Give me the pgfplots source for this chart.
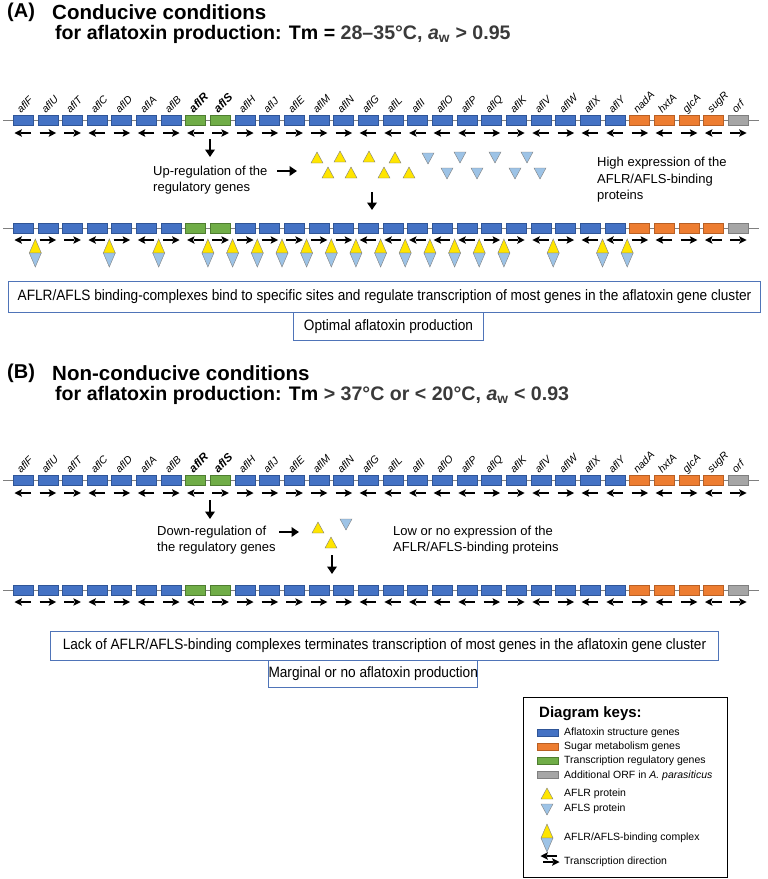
\documentclass[border=0pt]{standalone}
\usepackage{pgfplots}
\pgfplotsset{compat=1.18}
\usepackage{pgfplotstable}
\usepackage{fontspec}
\setmainfont{Liberation Sans}
\usetikzlibrary{arrows.meta}

\definecolor{gblue}{HTML}{4472C4}
\definecolor{gblueD}{HTML}{2F5597}
\definecolor{gorange}{HTML}{ED7D31}
\definecolor{gorangeD}{HTML}{B85F24}
\definecolor{ggreen}{HTML}{70AD47}
\definecolor{ggreenD}{HTML}{4E7D30}
\definecolor{ggray}{HTML}{A6A6A6}
\definecolor{ggrayD}{HTML}{7F7F7F}
\definecolor{tyellow}{HTML}{FFE500}
\definecolor{tblue}{HTML}{9DC3E6}
\definecolor{tedge}{HTML}{7F7F7F}
\definecolor{boxblue}{HTML}{4F74B8}
\definecolor{dgray}{HTML}{3A3A3A}

\pgfdeclareplotmark{genebox}{\pgfpathrectangle{\pgfpoint{-10pt}{-5pt}}{\pgfpoint{20pt}{10pt}}\pgfusepathqfillstroke}
\pgfdeclareplotmark{keybox}{\pgfpathrectangle{\pgfpoint{-10.5pt}{-3.5pt}}{\pgfpoint{21pt}{7pt}}\pgfusepathqfillstroke}
\pgfdeclareplotmark{tri}{\pgfpathmoveto{\pgfpoint{0pt}{6pt}}\pgfpathlineto{\pgfpoint{6pt}{-5pt}}\pgfpathlineto{\pgfpoint{-6pt}{-5pt}}\pgfpathclose\pgfusepathqfillstroke}
\pgfdeclareplotmark{itri}{\pgfpathmoveto{\pgfpoint{0pt}{-6pt}}\pgfpathlineto{\pgfpoint{6pt}{5pt}}\pgfpathlineto{\pgfpoint{-6pt}{5pt}}\pgfpathclose\pgfusepathqfillstroke}
\pgfdeclareplotmark{complex}{%
  \pgfsetstrokecolor{tedge}%
  \pgfsetfillcolor{tyellow}%
  \pgfpathmoveto{\pgfpoint{0pt}{14pt}}\pgfpathlineto{\pgfpoint{6pt}{0pt}}\pgfpathlineto{\pgfpoint{-6pt}{0pt}}\pgfpathclose\pgfusepathqfillstroke
  \pgfsetfillcolor{tblue}%
  \pgfpathmoveto{\pgfpoint{0pt}{-14pt}}\pgfpathlineto{\pgfpoint{6pt}{0pt}}\pgfpathlineto{\pgfpoint{-6pt}{0pt}}\pgfpathclose\pgfusepathqfillstroke}
\pgfdeclareplotmark{rarr}{%
  \pgfsetlinewidth{1.5pt}%
  \pgfpathmoveto{\pgfpoint{-8pt}{0pt}}\pgfpathlineto{\pgfpoint{2pt}{0pt}}\pgfusepathqstroke
  \pgfpathmoveto{\pgfpoint{8.5pt}{0pt}}\pgfpathlineto{\pgfpoint{1pt}{3.8pt}}\pgfpathlineto{\pgfpoint{2.5pt}{0pt}}\pgfpathlineto{\pgfpoint{1pt}{-3.8pt}}\pgfpathclose\pgfusepathqfill}
\pgfdeclareplotmark{larr}{%
  \pgfsetlinewidth{1.5pt}%
  \pgfpathmoveto{\pgfpoint{8pt}{0pt}}\pgfpathlineto{\pgfpoint{-2pt}{0pt}}\pgfusepathqstroke
  \pgfpathmoveto{\pgfpoint{-8.5pt}{0pt}}\pgfpathlineto{\pgfpoint{-1pt}{3.8pt}}\pgfpathlineto{\pgfpoint{-2.5pt}{0pt}}\pgfpathlineto{\pgfpoint{-1pt}{-3.8pt}}\pgfpathclose\pgfusepathqfill}

\pgfplotstableread{
x type dir
23.0 b L
47.7 b R
72.3 b R
97.0 b L
121.6 b R
146.3 b L
171.0 b R
195.6 g L
220.3 g R
245.0 b R
269.6 b R
294.3 b R
318.9 b R
343.6 b R
368.2 b L
392.9 b L
417.6 b L
442.2 b L
466.9 b L
491.5 b R
516.2 b R
540.9 b L
565.5 b R
590.2 b L
614.8 b L
639.5 o R
664.2 o L
688.8 o R
713.5 o L
738.1 y R
}\genes

\pgfplotstableread{
x y
35.3 253
109.3 253
158.7 253
207.9 253
232.6 253
257.3 253
282.0 253
306.6 253
331.3 253
355.9 253
380.6 253
405.2 253
429.9 253
454.6 253
479.2 253
503.9 253
553.2 253
602.5 253
627.2 253
}\complexes

\pgfplotstableread{
x y
317 158
340 157
369 157
395 158
328 173
351 173
384 173
409 173
}\aflrA

\pgfplotstableread{
x y
428 158
460 157
495 157
527 157
447 173
477 173
515 173
540 173
}\aflsA

\pgfplotstableread{
x y
318 528
331 543
}\aflrB

\pgfplotstableread{
x y
346 524
}\aflsB

\pgfplotsset{
  genestyle/.style={scatter, only marks, scatter src=explicit symbolic,
    scatter/classes={
      b={mark=genebox, fill=gblue, draw=gblueD},
      g={mark=genebox, fill=ggreen, draw=ggreenD},
      o={mark=genebox, fill=gorange, draw=gorangeD},
      y={mark=genebox, fill=ggray, draw=ggrayD}}},
  dirstyle/.style={scatter, only marks, scatter src=explicit symbolic,
    scatter/classes={
      L={mark=larr, black, fill=black},
      R={mark=rarr, black, fill=black}}},
  blockarrow/.style={black, line width=2.6pt, -{Triangle[width=9.5pt,length=7.5pt]}},
}
\tikzset{
  boxtext/.style={draw=boxblue, line width=1pt, anchor=north west, inner sep=0pt,
    font=\fontsize{15}{17}\selectfont},
  glab/.style={rotate=45, anchor=base west, inner sep=0pt, font=\fontsize{10.5}{12}\selectfont\itshape},
}
% gene names, written 45 degrees up from just above each box (#1 = y of the text base)
\newcommand{\genelabels}[1]{%
  \node[glab] at (axis cs:21.0,#1) {aflF};
  \node[glab] at (axis cs:45.7,#1) {aflU};
  \node[glab] at (axis cs:70.3,#1) {aflT};
  \node[glab] at (axis cs:95.0,#1) {aflC};
  \node[glab] at (axis cs:119.6,#1) {aflD};
  \node[glab] at (axis cs:144.3,#1) {aflA};
  \node[glab] at (axis cs:169.0,#1) {aflB};
  \node[glab] at (axis cs:193.6,#1) {\bfseries\fontsize{11.5}{12}\selectfont aflR};
  \node[glab] at (axis cs:218.3,#1) {\bfseries\fontsize{11.5}{12}\selectfont aflS};
  \node[glab] at (axis cs:243.0,#1) {aflH};
  \node[glab] at (axis cs:267.6,#1) {aflJ};
  \node[glab] at (axis cs:292.3,#1) {aflE};
  \node[glab] at (axis cs:316.9,#1) {aflM};
  \node[glab] at (axis cs:341.6,#1) {aflN};
  \node[glab] at (axis cs:366.2,#1) {aflG};
  \node[glab] at (axis cs:390.9,#1) {aflL};
  \node[glab] at (axis cs:415.6,#1) {aflI};
  \node[glab] at (axis cs:440.2,#1) {aflO};
  \node[glab] at (axis cs:464.9,#1) {aflP};
  \node[glab] at (axis cs:489.5,#1) {aflQ};
  \node[glab] at (axis cs:514.2,#1) {aflK};
  \node[glab] at (axis cs:538.9,#1) {aflV};
  \node[glab] at (axis cs:563.5,#1) {aflW};
  \node[glab] at (axis cs:588.2,#1) {aflX};
  \node[glab] at (axis cs:612.8,#1) {aflY};
  \node[glab] at (axis cs:637.5,#1) {nadA};
  \node[glab] at (axis cs:662.2,#1) {hxtA};
  \node[glab] at (axis cs:686.8,#1) {glcA};
  \node[glab] at (axis cs:711.5,#1) {sugR};
  \node[glab] at (axis cs:736.1,#1) {orf};
}

\begin{document}
\begin{tikzpicture}
\begin{axis}[width=768pt, height=879pt, scale only axis, xmin=0, xmax=768, ymin=0, ymax=879,
  y dir=reverse, hide axis, clip=false]

% ---------- Panel A ----------
\node[anchor=west, inner sep=0pt, font=\fontsize{20}{24}\selectfont\bfseries] at (axis cs:7,12) {(A)};
\node[anchor=west, inner sep=0pt, font=\fontsize{20.5}{24}\selectfont\bfseries] at (axis cs:52,12) {Conducive conditions};
\node[anchor=west, inner sep=0pt, font=\fontsize{19.6}{24}\selectfont\bfseries] at (axis cs:55,34) {for aflatoxin production: Tm = \textcolor{dgray}{28–35°C, \textit{a}\textsubscript{w} > 0.95}};

% row 1
\addplot[ggrayD, line width=0.8pt] coordinates {(3,120) (759,120)};
\addplot[genestyle] table[x=x, y expr=120, meta=type] {\genes};
\addplot[dirstyle] table[x=x, y expr=133, meta=dir] {\genes};
\genelabels{113.5}

\addplot[blockarrow] coordinates {(210,139) (210,157)};
\node[anchor=west, inner sep=0pt, align=left, font=\fontsize{13}{16}\selectfont] at (axis cs:153,180) {Up-regulation of the\\regulatory genes};
\addplot[blockarrow] coordinates {(277,171) (297,171)};

\addplot[only marks, mark=tri, fill=tyellow, draw=tedge] table[x=x,y=y] {\aflrA};
\addplot[only marks, mark=itri, fill=tblue, draw=tedge] table[x=x,y=y] {\aflsA};
\addplot[blockarrow] coordinates {(372,192) (372,210)};
\node[anchor=west, inner sep=0pt, align=left, font=\fontsize{13}{16.5}\selectfont] at (axis cs:597,180) {High expression of the\\AFLR/AFLS-binding\\proteins};

% row 2
\addplot[ggrayD, line width=0.8pt] coordinates {(3,228) (759,228)};
\addplot[genestyle] table[x=x, y expr=228, meta=type] {\genes};
\addplot[dirstyle] table[x=x, y expr=240, meta=dir] {\genes};
\addplot[only marks, mark=complex] table[x=x, y=y] {\complexes};

\node[boxtext, minimum width=752pt, minimum height=31pt] at (axis cs:8,281)
  {\scalebox{0.91}[1]{AFLR/AFLS binding-complexes bind to specific sites and regulate transcription of most genes in the aflatoxin gene cluster}};
\node[boxtext, minimum width=190pt, minimum height=28pt] at (axis cs:293,312)
  {\scalebox{0.91}[1]{Optimal aflatoxin production}};

% ---------- Panel B ----------
\node[anchor=west, inner sep=0pt, font=\fontsize{20}{24}\selectfont\bfseries] at (axis cs:7,373) {(B)};
\node[anchor=west, inner sep=0pt, font=\fontsize{20.5}{24}\selectfont\bfseries] at (axis cs:52,373) {Non-conducive conditions};
\node[anchor=west, inner sep=0pt, font=\fontsize{19.6}{24}\selectfont\bfseries] at (axis cs:55,395) {for aflatoxin production: Tm \textcolor{dgray}{> 37°C or < 20°C, \textit{a}\textsubscript{w} < 0.93}};

% row 3
\addplot[ggrayD, line width=0.8pt] coordinates {(3,480) (759,480)};
\addplot[genestyle] table[x=x, y expr=480, meta=type] {\genes};
\addplot[dirstyle] table[x=x, y expr=493, meta=dir] {\genes};
\genelabels{473.5}

\addplot[blockarrow] coordinates {(210,500) (210,519)};
\node[anchor=west, inner sep=0pt, align=left, font=\fontsize{13}{16}\selectfont] at (axis cs:157,540) {Down-regulation of\\the regulatory genes};
\addplot[blockarrow] coordinates {(279,532) (299,532)};
\addplot[only marks, mark=tri, fill=tyellow, draw=tedge] table[x=x,y=y] {\aflrB};
\addplot[only marks, mark=itri, fill=tblue, draw=tedge] table[x=x,y=y] {\aflsB};
\addplot[blockarrow] coordinates {(332,555) (332,574)};
\node[anchor=west, inner sep=0pt, align=left, font=\fontsize{13}{16}\selectfont] at (axis cs:393,540) {Low or no expression of the\\AFLR/AFLS-binding proteins};

% row 4
\addplot[ggrayD, line width=0.8pt] coordinates {(3,590) (759,590)};
\addplot[genestyle] table[x=x, y expr=590, meta=type] {\genes};
\addplot[dirstyle] table[x=x, y expr=602, meta=dir] {\genes};

\node[boxtext, minimum width=668pt, minimum height=29pt] at (axis cs:50,631)
  {\scalebox{0.91}[1]{Lack of AFLR/AFLS-binding complexes terminates transcription of most genes in the aflatoxin gene cluster}};
\node[boxtext, minimum width=209pt, minimum height=27pt] at (axis cs:268,660)
  {\scalebox{0.91}[1]{Marginal or no aflatoxin production}};

% ---------- Legend ----------
\addplot[black, line width=1pt] coordinates {(523,697) (727,697) (727,877) (523,877) (523,697)};
\node[anchor=west, inner sep=0pt, font=\fontsize{15}{18}\selectfont\bfseries] at (axis cs:539,714) {Diagram keys:};
\addplot[only marks, mark=keybox, fill=gblue, draw=gblueD] coordinates {(547.5,733)};
\addplot[only marks, mark=keybox, fill=gorange, draw=gorangeD] coordinates {(547.5,747)};
\addplot[only marks, mark=keybox, fill=ggreen, draw=ggreenD] coordinates {(547.5,761)};
\addplot[only marks, mark=keybox, fill=ggray, draw=ggrayD] coordinates {(547.5,775)};
\addplot[only marks, mark=tri, fill=tyellow, draw=tedge] coordinates {(547,794)};
\addplot[only marks, mark=itri, fill=tblue, draw=tedge] coordinates {(547,809)};
\addplot[only marks, mark=complex] coordinates {(547,838)};
\addplot[only marks, mark=larr, black, fill=black] coordinates {(549,856)};
\addplot[only marks, mark=rarr, black, fill=black] coordinates {(551,862)};
\begin{scope}[every node/.style={anchor=west, inner sep=0pt, font=\fontsize{10.5}{12}\selectfont}]
\node at (axis cs:564,733) {Aflatoxin structure genes};
\node at (axis cs:564,747) {Sugar metabolism genes};
\node at (axis cs:564,761) {Transcription regulatory genes};
\node at (axis cs:564,776) {Additional ORF in \textit{A. parasiticus}};
\node at (axis cs:564,794) {AFLR protein};
\node at (axis cs:564,809) {AFLS protein};
\node at (axis cs:564,838) {AFLR/AFLS-binding complex};
\node at (axis cs:564,862) {Transcription direction};
\end{scope}
\end{axis}
\pgfresetboundingbox
\path[use as bounding box] (current axis.south west) rectangle (current axis.north east);
\end{tikzpicture}
\end{document}
